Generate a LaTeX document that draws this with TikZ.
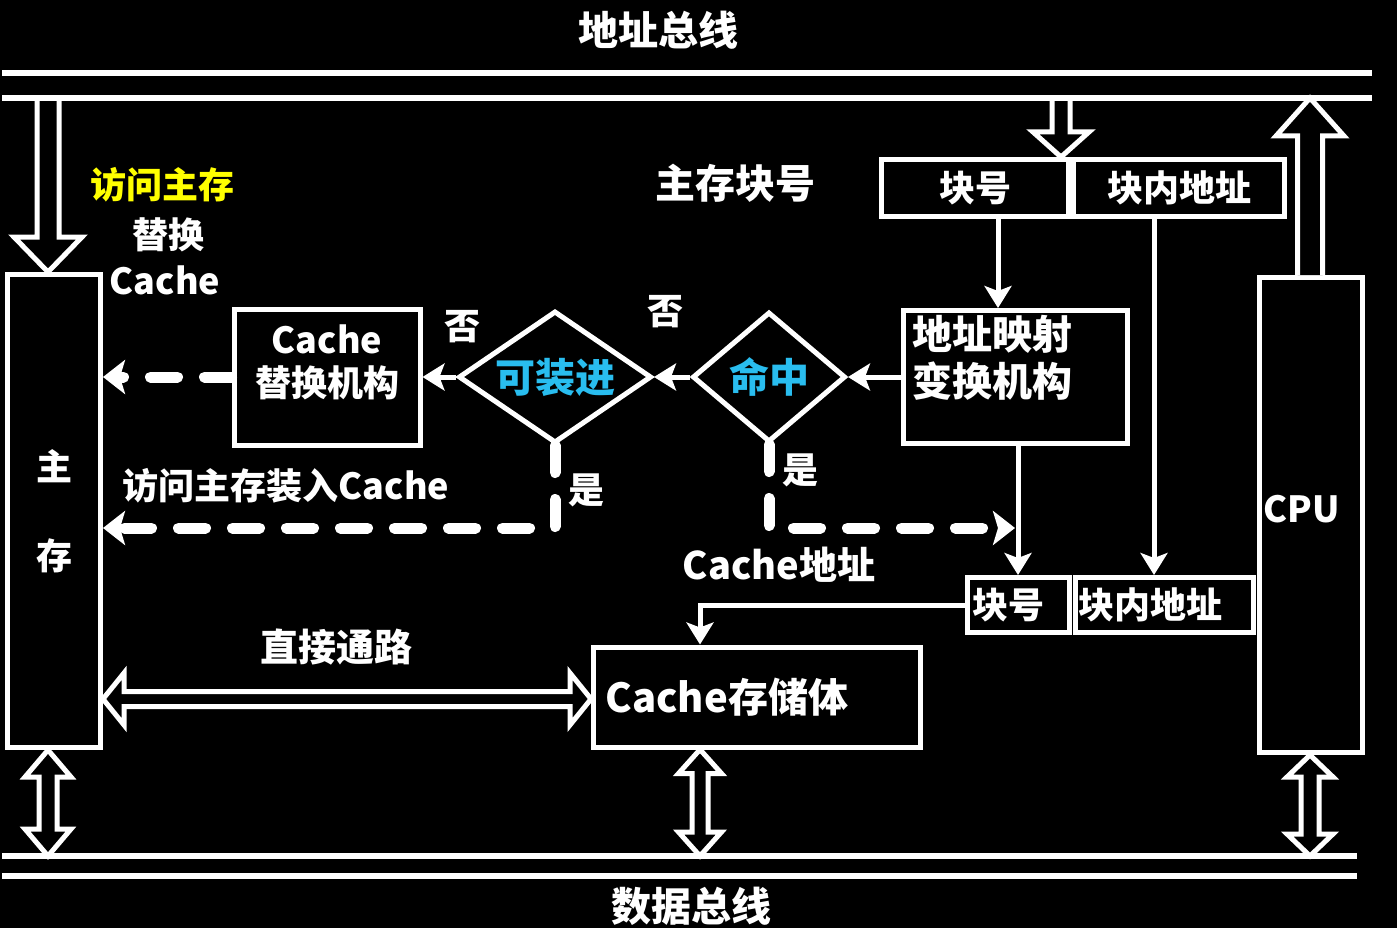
\documentclass[tikz,border=0pt]{standalone}
\usepackage{fontspec}
\setmainfont{Noto Sans CJK SC}
\usetikzlibrary{calc,arrows.meta,shapes.geometric}
\definecolor{hitblue}{RGB}{41,189,239}
\definecolor{visityellow}{RGB}{255,255,0}
\def\fsz#1{\fontsize{#1pt}{#1pt}\selectfont}
\tikzset{x=1pt, y=-1pt,
  unit box/.style={draw=white, line width=5pt, fill=black, inner sep=0pt},
  txt/.style={text=white, font=\bfseries\fsz{36}, inner sep=0pt},
  reg box/.style={unit box, txt, minimum height=57pt},
  test/.style={diamond, draw=white, line width=5pt, fill=black, inner sep=0pt,
    text=hitblue, font=\bfseries\fsz{40}},
  bus/.style={draw=white, line width=6pt},
  flow/.style={draw=white, line width=5pt, -{Stealth[length=22pt,width=27pt,inset=5pt]}},
  miss/.style={draw=white, line width=11pt, line cap=round, dash pattern=on 27pt off 27pt,
    -{Stealth[length=22pt,width=34pt,inset=5pt]}},
  hollow/.style={draw=white, line width=5pt, fill=black, line join=miter}
}
% hollow bus arrows: #3 half shaft, #4 half head, #5 head length
\def\HollowDown#1#2#3#4#5{%
 \draw[hollow] let \p1=(#1), \p2=(#2) in
  (\x2-#3,\y1) -- (\x2-#3,\y2+#5) -- (\x2-#4,\y2+#5) -- (\x2,\y2)
  -- (\x2+#4,\y2+#5) -- (\x2+#3,\y2+#5) -- (\x2+#3,\y1);
}
\def\HollowUp#1#2#3#4#5{%
 \draw[hollow] let \p1=(#1), \p2=(#2) in
  (\x1-#3,\y1) -- (\x1-#3,\y2-#5) -- (\x1-#4,\y2-#5) -- (\x1,\y2)
  -- (\x1+#4,\y2-#5) -- (\x1+#3,\y2-#5) -- (\x1+#3,\y1);
}
\def\HollowBoth#1#2#3#4#5{%
 \draw[hollow] let \p1=(#1), \p2=(#2) in
  (\x1,\y1) -- (\x1+#4,\y1-#5) -- (\x1+#3,\y1-#5) -- (\x1+#3,\y2+#5)
  -- (\x1+#4,\y2+#5) -- (\x1,\y2) -- (\x1-#4,\y2+#5) -- (\x1-#3,\y2+#5)
  -- (\x1-#3,\y1-#5) -- (\x1-#4,\y1-#5) -- cycle;
}
\def\HollowSide#1#2#3#4#5{%
 \draw[hollow] let \p1=(#1), \p2=(#2) in
  (\x1,\y1) -- (\x1+#5,\y1+#4) -- (\x1+#5,\y1+#3) -- (\x2-#5,\y1+#3)
  -- (\x2-#5,\y1+#4) -- (\x2,\y1) -- (\x2-#5,\y1-#4) -- (\x2-#5,\y1-#3)
  -- (\x1+#5,\y1-#3) -- (\x1+#5,\y1-#4) -- cycle;
}
\begin{document}
\begin{tikzpicture}
\useasboundingbox (0,0) rectangle (1397,928);
\fill[black] (0,0) rectangle (1397,928);

\coordinate (abusL) at (2,98);
\coordinate (abusR) at (1372,98);
\coordinate (dbusL) at (2,856);
\coordinate (dbusR) at (1357,856);
\coordinate (missrow) at (0,528);
\coordinate (directrow) at (0,699);

% units
\node[unit box, txt, minimum width=93pt, minimum height=473pt, align=center] (mem) at (54,511) {\raisebox{5pt}{主}\\[48pt]存};
\node[unit box, minimum width=186pt, minimum height=136pt] (repl) at (327,377) {};
\node[txt, align=center, font=\bfseries\fontsize{36pt}{43pt}\selectfont] (repltxt) at (327,362) {Cache\\替换机构};
\node[test, aspect=1.45, minimum width=193pt, minimum height=132pt] (load) at (555,377) {可装进};
\node[test, aspect=1.2, minimum width=153pt, minimum height=130pt] (hit) at (769,377) {命中};
\node[unit box, minimum width=224pt, minimum height=133pt] (map) at (1015,377) {};
\node[txt, align=left, anchor=west, font=\bfseries\fontsize{40pt}{47pt}\selectfont] (maptxt) at (912,358) {地址映射\\变换机构};
\node[reg box, minimum width=187pt] (blk) at (975,188) {块号};
\node[reg box, minimum width=211pt] (off) at (1179,188) {块内地址};
\node[reg box, minimum height=55pt, text width=92pt, inner xsep=5pt, align=left] (cblk) at (1018,605) {块号};
\node[reg box, minimum height=55pt, text width=172pt, inner xsep=3pt, align=left] (coff) at (1164,605) {块内地址};
\node[unit box, txt, font=\bfseries\fsz{40}, minimum height=100pt, text width=303pt, inner xsep=12pt, align=left] (store) at (757,697) {Cache存储体};
\node[unit box, txt, minimum height=475pt, text width=95pt, inner xsep=4pt, align=left] (cpu) at (1311,515) {\raisebox{12pt}{CPU}};

% labels
\node[txt, font=\bfseries\fsz{40}] (abuslbl) at (658,30) {地址总线};
\node[txt, font=\bfseries\fsz{40}] (dbuslbl) at (691,906) {数据总线};
\node[txt, text=visityellow] (visit) at (162,185) {访问主存};
\node[txt] (swap) at (168,235) {替换};
\node[txt] (swapc) at (165,280) {Cache};
\node[txt, font=\bfseries\fsz{40}] (mblk) at (735,183) {主存块号};
\node[txt] (no1) at (462,327) {否};
\node[txt] (no2) at (665,312) {否};
\node[txt] (yes1) at (586,490) {是};
\node[txt] (yes2) at (800,470) {是};
\node[txt] (loadlbl) at (286,486) {访问主存装入Cache};
\node[txt, font=\bfseries\fsz{38}] (caddr) at (779,565) {Cache地址};
\node[txt, font=\bfseries\fsz{38}] (direct) at (336,647) {直接通路};

% flow
\draw[flow] (map.west) -- (hit.east);
\draw[flow] (hit.west) -- (load.east);
\draw[flow] (load.west) -- (repl.east);
\draw[miss] (repl.west) -- (repl.west -| mem.east);
\draw[miss] (load.south) |- (missrow -| mem.east);
\draw[miss, shorten >=3pt] (hit.south) |- (missrow -| cblk.north);
\draw[flow] (map.south -| cblk.north) -- (cblk.north);
\draw[flow] ([xshift=23pt]blk.south) -- ([xshift=23pt]blk.south |- map.north);
\draw[flow] ([xshift=-10pt]coff.north |- off.south) -- ([xshift=-10pt]coff.north);
\draw[flow] (cblk.west) -| ([xshift=-57pt]store.north);

% bus ports
\coordinate (memport) at ([xshift=-6pt]mem.north);
\coordinate (regport) at ([xshift=-10pt]blk.north east);
\coordinate (cpuport) at ([xshift=-1pt]cpu.north);
\coordinate (memdata) at ([xshift=-6pt]mem.south);
\coordinate (storedata) at ([xshift=-57pt]store.south);
\coordinate (cpudata) at ([xshift=-1pt]cpu.south);
\HollowDown{memport |- abusL}{memport}{11pt}{34pt}{35pt}
\HollowDown{regport |- abusL}{regport}{9pt}{28pt}{25pt}
\HollowUp{cpuport}{cpuport |- abusL}{12.5pt}{34pt}{38pt}
\HollowBoth{memdata}{memdata |- dbusL}{9pt}{23pt}{27pt}
\HollowBoth{storedata}{storedata |- dbusL}{8pt}{21.5pt}{24pt}
\HollowBoth{cpudata}{cpudata |- dbusL}{9pt}{23pt}{22pt}
\HollowSide{directrow -| mem.east}{directrow -| store.west}{7.5pt}{26pt}{21pt}

% buses
\draw[bus] ([yshift=25pt]abusL) -- ([yshift=25pt]abusR);
\draw[bus] (abusL) -- (abusR);
\draw[bus] (dbusL) -- (dbusR);
\draw[bus] ([yshift=-20pt]dbusL) -- ([yshift=-20pt]dbusR);
\end{tikzpicture}
\end{document}
